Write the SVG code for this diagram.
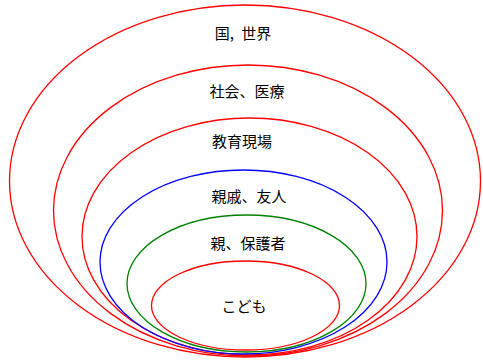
<svg xmlns="http://www.w3.org/2000/svg" width="483" height="360" viewBox="0 0 483 360">
<style>
.r{fill:none;stroke-width:1.3}
.red{stroke:#ff0000}.blue{stroke:#0000ff}.green{stroke:#008000}
text{font-family:"Noto Sans CJK JP","Noto Sans",sans-serif;font-size:15px;fill:#000;text-anchor:middle;dominant-baseline:central}
</style>
<rect width="483" height="360" fill="#fff"/>
<g id="world"><ellipse class="r red" cx="245" cy="181" rx="235.5" ry="176"/><text x="243" y="32">国,<tspan dx="4"> 世界</tspan></text></g>
<g id="society"><ellipse class="r red" cx="248" cy="210.5" rx="194.5" ry="145.5"/><text x="247" y="90">社会、医療</text></g>
<g id="school"><ellipse class="r red" cx="249.5" cy="236.5" rx="167.5" ry="118.5"/><text x="242" y="140">教育現場</text></g>
<g id="relatives"><ellipse class="r blue" cx="243.5" cy="262" rx="143.5" ry="92"/><text x="249" y="195">親戚、友人</text></g>
<g id="parents"><ellipse class="r green" cx="246.5" cy="283.5" rx="119.5" ry="68.5"/><text x="248" y="242">親、保護者</text></g>
<g id="child"><ellipse class="r red" cx="245.5" cy="305.5" rx="94" ry="44.5"/><text x="244" y="305">こども</text></g>
</svg>
